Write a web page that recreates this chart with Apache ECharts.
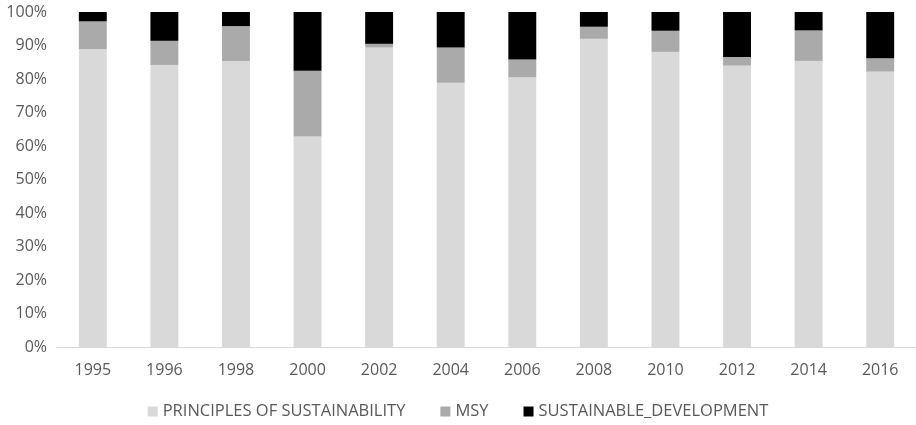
<!DOCTYPE html>
<html>
<head>
<meta charset="utf-8">
<script src="https://cdn.jsdelivr.net/npm/echarts@6/dist/echarts.min.js"></script>
<style>
  html, body { margin: 0; padding: 0; background: #ffffff; }
  #chart { width: 916px; height: 425px; }
</style>
</head>
<body>
<div id="chart"></div>
<script>
// Share of each concept per year (percent of total)
const years = ['1995', '1996', '1998', '2000', '2002', '2004', '2006', '2008', '2010', '2012', '2014', '2016'];
const principlesOfSustainability = [88.9, 84.2, 85.4, 62.8, 89.4, 78.9, 80.5, 92.0, 88.1, 84.0, 85.4, 82.2];
const msy = [8.3, 7.2, 10.4, 19.7, 1.1, 10.5, 5.3, 3.6, 6.3, 2.6, 9.1, 4.0];
const sustainableDevelopment = [2.8, 8.6, 4.2, 17.5, 9.5, 10.6, 14.2, 4.4, 5.6, 13.4, 5.5, 13.8];

const fontFamily = '"Open Sans", "Noto Sans", sans-serif';
const textColor = '#595959';

const chart = echarts.init(document.getElementById('chart'), null, { renderer: 'canvas' });

function barSeries(name, data, color) {
  return {
    name: name,
    type: 'bar',
    stack: 'total',
    data: data,
    barWidth: '39%',
    itemStyle: { color: color },
    emphasis: { disabled: true }
  };
}

chart.setOption({
  animation: false,
  textStyle: { fontFamily: fontFamily },
  grid: { left: 57, right: 0, top: 12, bottom: 78, containLabel: false },
  legend: {
    bottom: 0,
    left: 'center',
    itemWidth: 10,
    itemHeight: 10,
    itemGap: 35,
    icon: 'rect',
    textStyle: { color: textColor, fontSize: 16.5, fontFamily: fontFamily }
  },
  xAxis: {
    type: 'category',
    data: years,
    axisLine: { lineStyle: { color: '#d9d9d9', width: 1 } },
    axisTick: { show: false },
    axisLabel: { color: textColor, fontSize: 16, margin: 15, fontFamily: fontFamily }
  },
  yAxis: {
    type: 'value',
    min: 0,
    max: 100,
    interval: 10,
    axisLine: { show: false },
    axisTick: { show: false },
    splitLine: { show: false },
    axisLabel: {
      color: textColor,
      fontSize: 16,
      margin: 10,
      fontFamily: fontFamily,
      formatter: v => v + '%'
    }
  },
  series: [
    barSeries('PRINCIPLES OF SUSTAINABILITY', principlesOfSustainability, '#d9d9d9'),
    barSeries('MSY', msy, '#aaaaaa'),
    barSeries('SUSTAINABLE_DEVELOPMENT', sustainableDevelopment, '#000000')
  ]
});
</script>
</body>
</html>
